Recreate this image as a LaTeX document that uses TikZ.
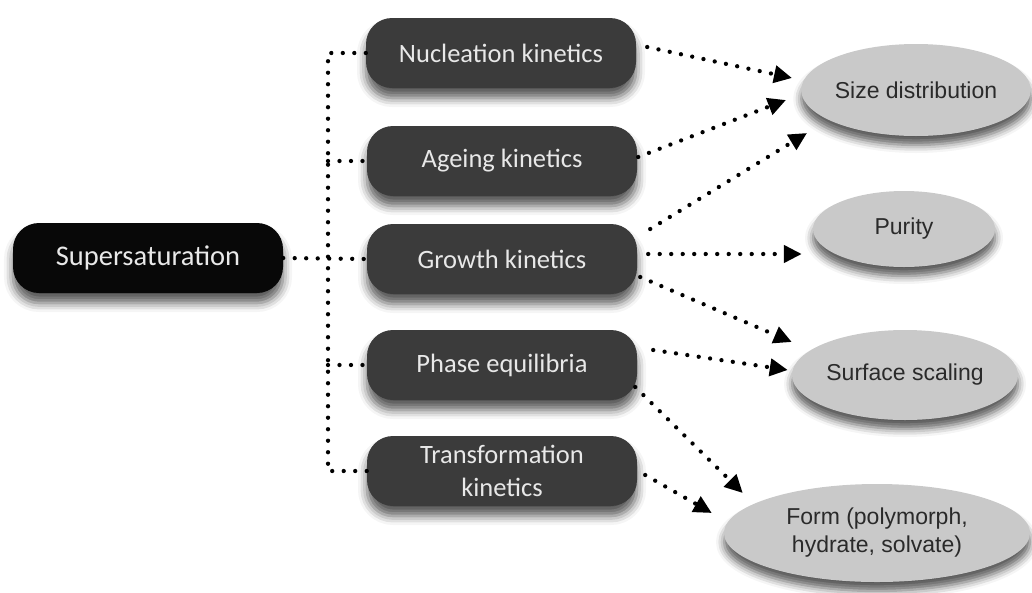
\documentclass[tikz,border=0pt]{standalone}
\usepackage{fontspec}
\setmainfont{Carlito}
\newfontfamily\ellfont{Liberation Sans}
\usetikzlibrary{shapes.geometric,arrows.meta,shadows.blur}
\definecolor{boxgray}{HTML}{3B3B3B}
\definecolor{boxblack}{HTML}{080808}
\definecolor{boxtext}{HTML}{E8E8E8}
\definecolor{ellgray}{HTML}{C9C9C9}
\definecolor{elltext}{HTML}{2A2A2A}
\tikzset{
  kbox/.style={rectangle, rounded corners=26pt, fill=boxgray, text=boxtext,
    minimum width=270pt, minimum height=70pt, inner sep=0pt, align=center,
    font=\fontsize{26.5}{33}\selectfont,
    blur shadow={shadow xshift=0pt, shadow yshift=-10pt, shadow blur radius=9pt, shadow opacity=65}},
  ell/.style={ellipse, fill=ellgray, text=elltext, inner sep=0pt, align=center,
    font=\ellfont\fontsize{23}{28}\selectfont,
    blur shadow={shadow xshift=0pt, shadow yshift=-9pt, shadow blur radius=8pt, shadow opacity=65}},
  dots/.style={line width=4.3pt, line cap=round, dash pattern=on 0pt off 11.5pt, black},
  arr/.style={dots, -{Triangle[length=18pt,width=17pt,line cap=butt]}},
}
\begin{document}
\begin{tikzpicture}[x=1pt,y=-1pt]
\useasboundingbox (0,0) rectangle (1032,592);
% boxes
\node[kbox, fill=boxblack, font=\fontsize{28.5}{33}\selectfont] (sup) at (148,258) {Supersaturation};
\node[kbox] (nuc) at (501,53) {Nucleation kinetics};
\node[kbox] (age) at (502,161) {Ageing kinetics};
\node[kbox] (gro) at (502,259) {Growth kinetics};
\node[kbox] (pha) at (502,365) {Phase equilibria};
\node[kbox] (tra) at (502,471) {Transformation\\kinetics};
% ellipses
\node[ell, minimum width=228pt, minimum height=92pt] (size) at (916,90) {Size distribution};
\node[ell, minimum width=182pt, minimum height=76pt] (pur) at (904,229) {Purity};
\node[ell, minimum width=226pt, minimum height=90pt] (sur) at (905,375) {Surface scaling};
\node[ell, minimum width=306pt, minimum height=98pt] (form) at (877,533) {Form (polymorph,\\hydrate, solvate)};
% left tree
\coordinate (top) at (328,53);
\coordinate (bot) at (328,471);
\draw[dots] (nuc.west) -- (top) -- (bot) -- (tra.west);
\draw[dots] (sup.east) -- (gro.west);
\draw[dots] (age.west -| top) -- (age.west);
\draw[dots] (pha.west -| top) -- (pha.west);
% arrows
\draw[arr] ([shift={(11,-6)}]nuc.east) -- ([shift={(-9,-12)}]size.west);
\draw[arr] ([shift={(1,-4)}]age.east) -- ([shift={(-15,10)}]size.west);
\draw[arr] ([shift={(13,-30)}]gro.east) -- ([shift={(6,43)}]size.west);
\draw[arr] ([shift={(11,-5)}]gro.east) -- ([shift={(-11,25)}]pur.west);
\draw[arr] ([shift={(3,18)}]gro.east) -- ([shift={(0,-33)}]sur.west);
\draw[arr] ([shift={(16,-15)}]pha.east) -- ([shift={(-4,-5)}]sur.west);
\draw[arr] ([shift={(-2,22)}]pha.east) -- ([shift={(19,-40)}]form.west);
\draw[arr] ([shift={(8,4)}]tra.east) -- ([shift={(-12,-20)}]form.west);
\end{tikzpicture}
\end{document}
